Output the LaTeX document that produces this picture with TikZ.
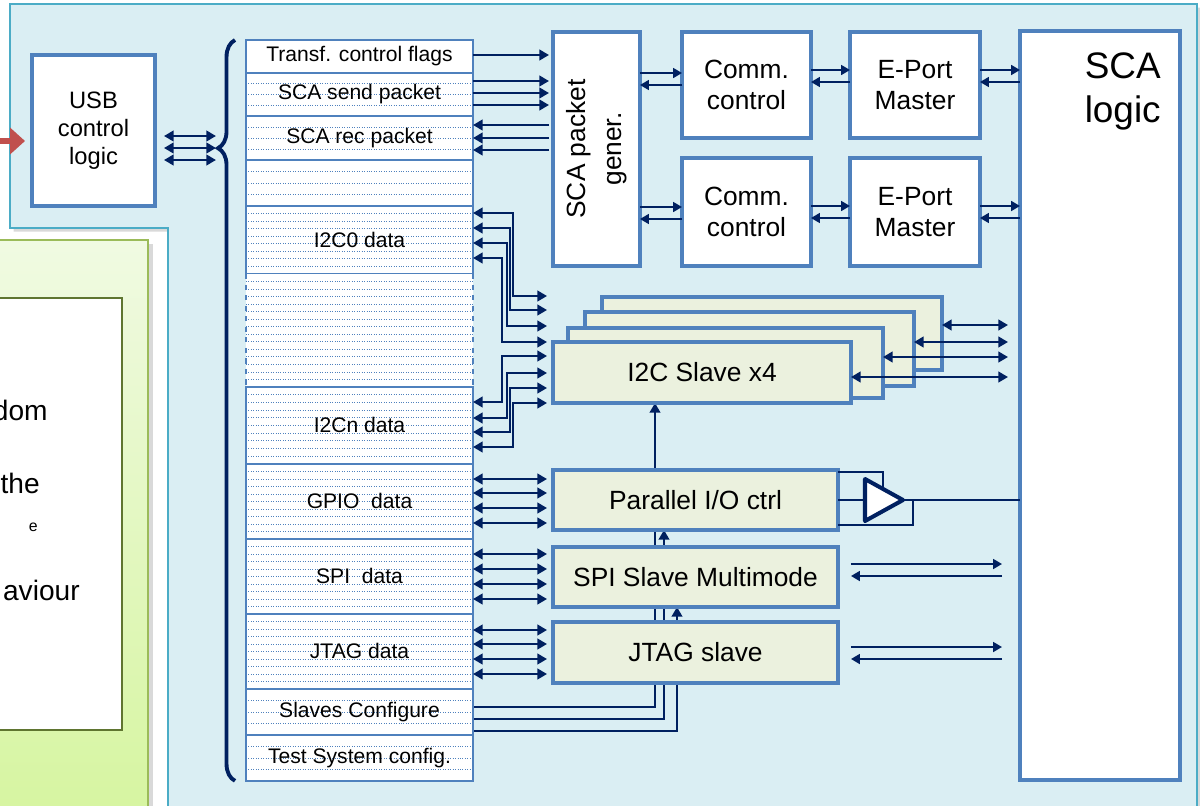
\documentclass[tikz,border=0pt]{standalone}
\usepackage{fontspec}
\setmainfont{Liberation Sans}
\usetikzlibrary{arrows.meta, positioning, calc, decorations.pathreplacing, shadows}

\definecolor{boxblue}{HTML}{4F81BD}
\definecolor{panelblue}{HTML}{DAEEF3}
\definecolor{panelline}{HTML}{4BACC6}
\definecolor{navy}{HTML}{002060}
\definecolor{slavefill}{HTML}{EBF1DE}
\definecolor{usbred}{HTML}{C0504D}
\definecolor{greentop}{HTML}{F0FAE2}
\definecolor{greenbot}{HTML}{D6F5A0}
\definecolor{greenline}{HTML}{9BBB59}
\definecolor{oliveline}{HTML}{5F7530}

\pgfdeclarelayer{back}
\pgfdeclarelayer{mid}
\pgfsetlayers{back,mid,main}

\tikzset{
  blk/.style={draw=boxblue, line width=2pt, fill=white, inner sep=0pt, outer sep=0pt,
    align=center, font=\fontsize{15}{17.6}\selectfont},
  slave/.style={blk, fill=slavefill},
  reg/.style={draw=boxblue, line width=1.2pt, fill=white, minimum width=4.54cm,
    inner sep=0pt, outer sep=0pt, font=\fontsize{12}{14}\selectfont},
  dotline/.style={boxblue, line width=0.4pt, densely dotted},
  regdots/.style={path picture={
    \foreach \i in {1,...,#1}{
      \pgfmathsetmacro\f{\i/(#1+1)}
      \draw[dotline] ($(path picture bounding box.north west)!\f!(path picture bounding box.south west)$)
        -- ($(path picture bounding box.north east)!\f!(path picture bounding box.south east)$);
    }}},
  note/.style={inner sep=0pt, font=\fontsize{16}{19}\selectfont},
  arr/.style={navy, line width=1.5pt, -{Triangle[length=5.5pt,width=6pt]}},
  tarr/.style={navy, line width=1.2pt, -{Triangle[length=5pt,width=5.5pt]}},
  darr/.style={navy, line width=1.5pt, {Triangle[length=5.5pt,width=6pt]}-{Triangle[length=5.5pt,width=6pt]}},
  cfg/.style={navy, line width=1.3pt, -{Triangle[length=5.5pt,width=6pt]}},
  wire/.style={navy, line width=0.8pt},
}

\begin{document}
\begin{tikzpicture}[x=0.02cm, y=-0.02cm]
\useasboundingbox (0,0) rectangle (1200,805);

% panels
\begin{pgfonlayer}{back}
\filldraw[fill=panelblue, draw=panelline, line width=1pt,
  drop shadow={opacity=0.3, shadow xshift=2pt, shadow yshift=-2pt}]
  (10,4) -- (1197,4) -- (1197,820) -- (168,820) -- (168,228) -- (10,228) -- cycle;
\path[top color=greentop, bottom color=greenbot, draw=greenline, line width=1.2pt,
  drop shadow={opacity=0.3, shadow xshift=3pt, shadow yshift=-2pt}]
  (-10,240) rectangle (148,820);
\filldraw[fill=white, draw=oliveline, line width=0.8pt] (-10,298) rectangle (122,730);
\end{pgfonlayer}

\node[note, anchor=east] (n1) at (48,410) {dom};
\node[note, anchor=east] (n2) at (40,483) {the};
\node[note, anchor=east, font=\fontsize{9}{10}\selectfont] (n3) at (38,527) {e};
\node[note, anchor=east] (n4) at (80,590) {aviour};

% usb side
\node[blk, line width=2.2pt, minimum width=2.46cm, minimum height=3.02cm,
  font=\fontsize{13.5}{16}\selectfont] (usb) at (93.5,130.5) {USB\\control\\logic};
\coordinate (usbin) at (-5,141);
\draw[usbred, line width=3.4pt, -{Triangle[length=0.3cm,width=0.52cm]}, shorten >=0.14cm]
  (usbin) -- (usb.west |- usbin);

% register map
\node[reg, minimum height=0.66cm, anchor=north] (flags) at (359.5,40) {Transf. control flags};
\node[reg, regdots=3, minimum height=0.86cm, below=0pt of flags] (send) {SCA send packet};
\node[reg, regdots=3, minimum height=0.88cm, below=0pt of send] (rec) {SCA rec packet};
\node[reg, regdots=3, minimum height=0.92cm, below=0pt of rec] (spare) {};
\node[reg, regdots=8, minimum height=1.36cm, below=0pt of spare] (i2c0) {I2C0 data};
\node[reg, draw=none, regdots=14, minimum height=2.26cm, below=0pt of i2c0] (gap) {};
\draw[boxblue, line width=1.2pt, dashed] (gap.north west) -- (gap.south west)
  (gap.north east) -- (gap.south east);
\node[reg, regdots=9, minimum height=1.54cm, below=0pt of gap] (i2cn) {I2Cn data};
\node[reg, regdots=9, minimum height=1.5cm, below=0pt of i2cn] (gpio) {GPIO\ \ data};
\node[reg, regdots=9, minimum height=1.5cm, below=0pt of gpio] (spi) {SPI\ \ data};
\node[reg, regdots=9, minimum height=1.5cm, below=0pt of spi] (jtagr) {JTAG data};
\node[reg, regdots=3, minimum height=0.92cm, below=0pt of jtagr] (slcfg) {Slaves Configure};
\node[reg, regdots=3, minimum height=0.92cm, below=0pt of slcfg] (test) {Test System config.};

\draw[navy, line width=2.2pt, decorate, decoration={brace, amplitude=0.34cm, aspect=0.854}]
  ([xshift=-0.22cm]test.south west) -- ([xshift=-0.22cm]flags.north west);
\coordinate (bt) at (216,148);
\foreach \y in {136,148,160}
  \draw[darr, shorten <=0.18cm] (usb.east |- 0,\y) -- (bt |- 0,\y);

% sca blocks
\node[blk, minimum width=1.74cm, minimum height=4.68cm, font=\fontsize{15}{20}\selectfont] (gen) at (596.5,149)
  {\rotatebox{90}{\begin{tabular}{@{}c@{}}SCA packet\\gener.\end{tabular}}};
\node[blk, minimum width=2.58cm, minimum height=2.12cm] (comm1) at (746.5,85) {Comm.\\control};
\node[blk, minimum width=2.6cm, minimum height=2.12cm] (ep1) at (915,85) {E-Port\\Master};
\node[blk, minimum width=2.58cm, minimum height=2.16cm] (comm2) at (746.5,212) {Comm.\\control};
\node[blk, minimum width=2.6cm, minimum height=2.16cm] (ep2) at (915,212) {E-Port\\Master};
\node[blk, minimum width=3.2cm, minimum height=14.98cm] (sca) at (1100,405.5) {};
\node[anchor=north east, inner sep=0pt, align=right, font=\fontsize{21}{25.5}\selectfont]
  (scalbl) at (1161,52) {SCA\\logic};

% slaves
\node[slave, minimum width=6.8cm, minimum height=1.46cm] (s4) at (772,333.5) {};
\node[slave, minimum width=6.58cm, minimum height=1.48cm] (s3) at (749.5,349) {};
\node[slave, minimum width=6.3cm, minimum height=1.4cm] (s2) at (725.5,363) {};
\node[slave, minimum width=5.96cm, minimum height=1.22cm] (s1) at (702,372.5) {I2C Slave x4};
\node[slave, minimum width=5.7cm, minimum height=1.2cm] (pio) at (695.5,500) {Parallel I/O ctrl};
\node[slave, minimum width=5.7cm, minimum height=1.2cm] (spis) at (695.5,577) {SPI Slave Multimode};
\node[slave, minimum width=5.7cm, minimum height=1.22cm] (jtag) at (695.5,652.5) {JTAG slave};

% registers to packet generator
\draw[arr, shorten >=0.08cm] (flags.east |- 0,55) -- (gen.west |- 0,55);
\foreach \y in {81,93,105}
  \draw[arr, shorten >=0.08cm] (send.east |- 0,\y) -- (gen.west |- 0,\y);
\foreach \y in {125,138,150}
  \draw[arr, shorten <=0.08cm] (gen.west |- 0,\y) -- (rec.east |- 0,\y);

% generator, comm control, e-port, sca logic
\foreach \a/\b/\y in {gen/comm1/73, comm1/ep1/70, ep1/sca/70, gen/comm2/207, comm2/ep2/206, ep2/sca/206}{
  \draw[tarr] (\a.east |- 0,\y) -- (\b.west |- 0,\y);
  \draw[tarr] (\b.west |- 0,\y+12) -- (\a.east |- 0,\y+12);
}

% i2c data
\foreach \ya/\xb/\yb in {213/513/296, 228/510/310, 243/507/326, 258/502/342}
  \draw[darr, shorten >=0.12cm] (i2c0.east |- 0,\ya) -| (\xb,\yb) -- (s1.west |- 0,\yb);
\foreach \ya/\xb/\yb in {402/502/356, 418/507/373, 432/510/388, 447/513/403}
  \draw[darr, shorten >=0.12cm] (i2cn.east |- 0,\ya) -| (\xb,\yb) -- (s1.west |- 0,\yb);
\foreach \s/\y in {s4/325, s3/342, s2/357, s1/377}
  \draw[darr, shorten >=0.24cm] (\s.east |- 0,\y) -- (sca.west |- 0,\y);

% gpio, spi, jtag data
\foreach \y in {479,493,508,523}
  \draw[darr, shorten >=0.12cm] (gpio.east |- 0,\y) -- (pio.west |- 0,\y);
\foreach \y in {554,569,584,599}
  \draw[darr, shorten >=0.12cm] (spi.east |- 0,\y) -- (spis.west |- 0,\y);
\foreach \y in {630,644,659,674}
  \draw[darr, shorten >=0.12cm] (jtagr.east |- 0,\y) -- (jtag.west |- 0,\y);

% slaves configure
\begin{pgfonlayer}{mid}
\draw[cfg] (slcfg.east |- 0,707) -| (655,0 |- s1.south);
\draw[cfg] (slcfg.east |- 0,719) -| (664,0 |- pio.south);
\draw[cfg] (slcfg.east |- 0,731) -| (677,0 |- spis.south);
\end{pgfonlayer}

% output buffer
\coordinate (bufa) at (865,479);
\coordinate (bufb) at (865,521);
\coordinate (buft) at (903,500);
\draw[wire] (pio.east |- 0,472) -| (883,492);
\draw[wire] (pio.east |- 0,525) -| (913,500);
\draw[wire] (pio.east |- 0,500) -- (bufa |- 0,500);
\draw[navy, line width=2.3pt, fill=white, line join=round] (bufa) -- (buft) -- (bufb) -- cycle;
\draw[wire] (buft) -- (sca.west |- buft);

% spi and jtag lines
\foreach \b/\y in {spis/564, jtag/647}{
  \draw[tarr, shorten <=0.26cm, shorten >=0.36cm] (\b.east |- 0,\y) -- (sca.west |- 0,\y);
  \draw[tarr, shorten <=0.36cm, shorten >=0.26cm] (sca.west |- 0,\y+12) -- (\b.east |- 0,\y+12);
}
\end{tikzpicture}
\end{document}
